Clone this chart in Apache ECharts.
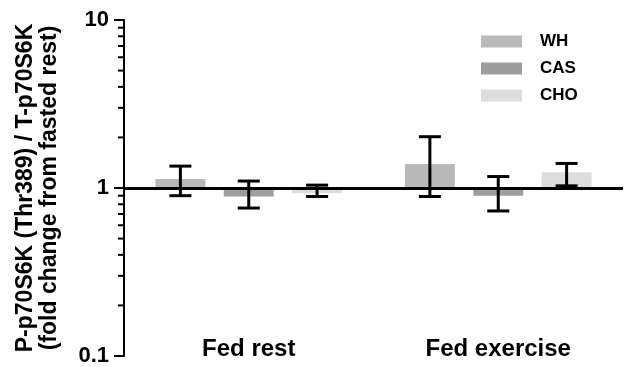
<!DOCTYPE html>
<html>
<head>
<meta charset="utf-8">
<script src="https://cdn.jsdelivr.net/npm/echarts@6/dist/echarts.min.js"></script>
<style>html,body{margin:0;padding:0;background:#fff}#c{width:624px;height:367px}</style>
</head>
<body>
<div id="c"></div>
<script>
const categories = ['Fed rest', 'Fed exercise'];
const seriesNames = ['WH', 'CAS', 'CHO'];
const whMean = [1.13, 1.39];
const whLow = [0.90, 0.89];
const whHigh = [1.35, 2.02];
const casMean = [0.89, 0.90];
const casLow = [0.76, 0.73];
const casHigh = [1.10, 1.17];
const choMean = [0.93, 1.24];
const choLow = [0.89, 1.03];
const choHigh = [1.04, 1.40];
const yTicks = [0.1, 1, 10];
const minorTicks = [0.2,0.3,0.4,0.5,0.6,0.7,0.8,0.9,2,3,4,5,6,7,8,9];
const colors = ['#b9b9b9', '#9e9e9e', '#dddddd'];

const means = [whMean, casMean, choMean];
const lows = [whLow, casLow, choLow];
const highs = [whHigh, casHigh, choHigh];

const FONT = '"Liberation Sans", Arial, sans-serif';

function makeSeries(si) {
  const data = categories.map((c, i) => [i, means[si][i], lows[si][i], highs[si][i]]);
  return {
    type: 'custom',
    name: seriesNames[si],
    itemStyle: { color: colors[si] },
    data: data,
    z: 2,
    renderItem: function (params, api) {
      const ci = api.value(0);
      const band = api.size([1, 1])[0];
      const offset = (si - 1) * band * 0.274;
      const bw = band * 0.2;
      const base = api.coord([ci, 1]);
      const cx = base[0] + offset;
      const yM = api.coord([ci, api.value(1)])[1];
      const yL = api.coord([ci, api.value(2)])[1];
      const yH = api.coord([ci, api.value(3)])[1];
      const capW = 22;
      const ls = { stroke: '#000', lineWidth: 3 };
      return {
        type: 'group',
        children: [
          { type: 'rect', shape: { x: cx - bw / 2, y: Math.min(yM, base[1]), width: bw, height: Math.abs(yM - base[1]) }, style: { fill: colors[si] } },
          { type: 'line', shape: { x1: cx, y1: yL, x2: cx, y2: yH }, style: ls },
          { type: 'line', shape: { x1: cx - capW / 2, y1: yH, x2: cx + capW / 2, y2: yH }, style: ls },
          { type: 'line', shape: { x1: cx - capW / 2, y1: yL, x2: cx + capW / 2, y2: yL }, style: ls }
        ]
      };
    }
  };
}

const series = [0, 1, 2].map(makeSeries);
series[0].markLine = {
  silent: true,
  symbol: 'none',
  label: { show: false },
  lineStyle: { color: '#000', width: 3, type: 'solid' },
  data: [{ yAxis: 1 }]
};
series[0].markLine.z = 5;

series.push({
  type: 'custom',
  name: 'minorTicks',
  silent: true,
  data: minorTicks.map(v => [0, v]),
  renderItem: function (params, api) {
    const y = api.coord([0, api.value(1)])[1];
    const x = params.coordSys.x;
    return { type: 'line', shape: { x1: x - 6, y1: y, x2: x, y2: y }, style: { stroke: '#000', lineWidth: 2 } };
  }
});

const chart = echarts.init(document.getElementById('c'));
chart.setOption({
  animation: false,
  backgroundColor: '#fff',
  grid: { left: 124, right: 1, top: 20, bottom: 9, containLabel: false },
  legend: {
    data: seriesNames,
    orient: 'vertical',
    left: 476,
    top: 28,
    icon: 'rect',
    itemWidth: 41,
    itemHeight: 12,
    itemGap: 10,
    selectedMode: false,
    textStyle: { fontFamily: FONT, fontWeight: 'bold', fontSize: 17, color: '#000', padding: [0, 0, 0, 13] }
  },
  xAxis: {
    type: 'category',
    data: categories,
    axisLine: { show: false },
    axisTick: { show: false },
    splitLine: { show: false },
    axisLabel: { margin: -19, fontFamily: FONT, fontWeight: 'bold', fontSize: 24, color: '#000' }
  },
  yAxis: {
    type: 'log',
    logBase: 10,
    min: 0.1,
    max: 10,
    name: 'P-p70S6K (Thr389) / T-p70S6K\n(fold change from fasted rest)',
    nameLocation: 'middle',
    nameGap: 62,
    nameTextStyle: { fontFamily: FONT, fontWeight: 'bold', fontSize: 23, lineHeight: 24, color: '#000' },
    axisLine: { show: true, lineStyle: { color: '#000', width: 2 } },
    axisTick: { show: true, length: 10, lineStyle: { color: '#000', width: 2 } },
    splitLine: { show: false },
    axisLabel: {
      margin: 15,
      fontFamily: FONT, fontWeight: 'bold', fontSize: 22, color: '#000',
      formatter: function (v) { return yTicks.indexOf(+v) >= 0 || Math.abs(v - 0.1) < 1e-9 ? String(+v.toPrecision(3)) : ''; }
    }
  },
  series: series
});
</script>
</body>
</html>
